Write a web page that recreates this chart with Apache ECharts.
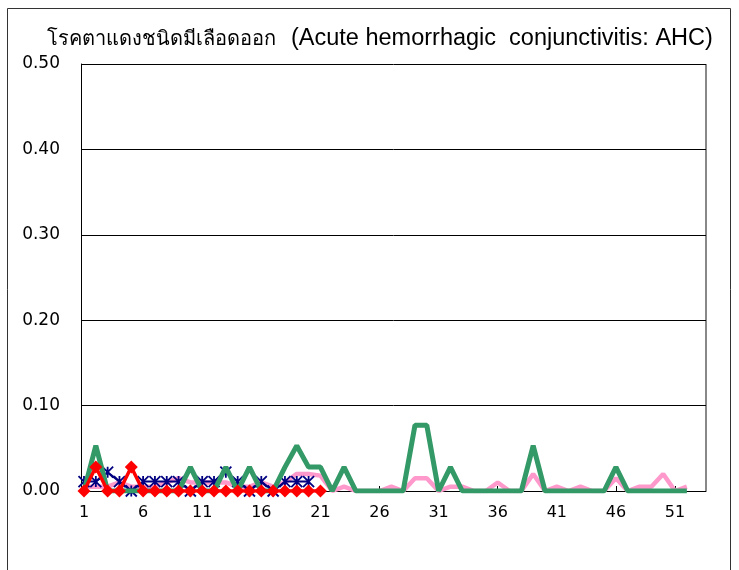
<!DOCTYPE html>
<html>
<head>
<meta charset="utf-8">
<script src="https://cdn.jsdelivr.net/npm/echarts@6/dist/echarts.min.js"></script>
<style>
html,body{margin:0;padding:0;background:#fff;}
#c{width:739px;height:570px;}
</style>
</head>
<body>
<div id="c"></div>
<script>
var titleThai = 'โรคตาแดงชนิดมีเลือดออก';
var titleEng = '(Acute hemorrhagic  conjunctivitis: AHC)';
var weeks = [1,2,3,4,5,6,7,8,9,10,11,12,13,14,15,16,17,18,19,20,21,22,23,24,25,26,
             27,28,29,30,31,32,33,34,35,36,37,38,39,40,41,42,43,44,45,46,47,48,49,50,51,52];
var xTickLabels = [1,6,11,16,21,26,31,36,41,46,51];
var yTickLabels = [0,0.1,0.2,0.3,0.4,0.5];
// pink series (weeks 1-52)
var pinkValues = [0.005,0.005,0.005,0.010,0.005,0.005,0.005,0.010,0.015,0.010,
                  0.010,0.010,0.010,0.005,0.005,0.010,0.005,0.010,0.020,0.020,
                  0.018,0.000,0.005,0.000,0.000,0.000,0.005,0.000,0.015,0.015,
                  0.000,0.005,0.005,0.000,0.000,0.010,0.000,0.000,0.020,0.000,
                  0.005,0.000,0.005,0.000,0.000,0.015,0.000,0.005,0.005,0.020,
                  0.000,0.005];
// green series (weeks 1-52)
var greenValues = [0.000,0.053,0.000,0.000,0.000,0.000,0.000,0.000,0.000,0.028,
                   0.000,0.000,0.028,0.000,0.028,0.000,0.000,0.028,0.053,0.028,
                   0.028,0.000,0.028,0.000,0.000,0.000,0.000,0.000,0.077,0.077,
                   0.000,0.028,0.000,0.000,0.000,0.000,0.000,0.000,0.053,0.000,
                   0.000,0.000,0.000,0.000,0.000,0.028,0.000,0.000,0.000,0.000,
                   0.000,0.000];
// navy asterisk series (weeks 1-20)
var navyValues = [0.011,0.011,0.022,0.011,0.000,0.011,0.011,0.011,0.011,0.000,
                  0.011,0.011,0.022,0.011,0.000,0.011,0.000,0.011,0.011,0.011];
// red diamond series (weeks 1-21)
var redValues = [0.000,0.028,0.000,0.000,0.028,0.000,0.000,0.000,0.000,0.000,
                 0.000,0.000,0.000,0.000,0.000,0.000,0.000,0.000,0.000,0.000,0.000];

function pairs(vals){ return vals.map(function(v,i){ return [weeks[i], v]; }); }

var chart = echarts.init(document.getElementById('c'), null, {renderer:'canvas'});
var FONT = 'DejaVu Sans';
chart.setOption({
  animation:false,
  backgroundColor:'#ffffff',
  title:{
    text:'{t|' + titleThai + '}   {e|' + titleEng + '}', left:42, top:22,
    textStyle:{
      fontWeight:'normal',
      rich:{
        t:{fontFamily:'Liberation Sans, Noto Sans', fontSize:20, fontWeight:'normal', color:'#000'},
        e:{fontFamily:'Liberation Sans', fontSize:23.5, fontWeight:'normal', color:'#000'}
      }
    }
  },
  grid:{left:81, right:33, top:64, bottom:79, show:false},
  xAxis:{
    type:'value', min:0.746, max:53.62,
    axisLine:{show:true, onZero:false, lineStyle:{color:'#000', width:1}},
    axisTick:{show:true, inside:true, length:5, customValues:xTickLabels, lineStyle:{color:'#000'}},
    axisLabel:{customValues:xTickLabels, margin:14, fontFamily:FONT, fontSize:16, color:'#000'},
    splitLine:{show:false}
  },
  yAxis:{
    type:'value', min:0, max:0.5, interval:0.1,
    axisLine:{show:true, lineStyle:{color:'#000', width:1}},
    axisTick:{show:false},
    axisLabel:{margin:21, fontFamily:FONT, fontSize:17, color:'#000',
      formatter:function(v){ return v.toFixed(2); }},
    splitLine:{show:true, lineStyle:{color:'#000', width:1}}
  },
  graphic:[
    {type:'rect', shape:{x:7.5, y:8.5, width:723, height:600}, style:{fill:null, stroke:'#333', lineWidth:1}, silent:true},
    {type:'line', shape:{x1:706, y1:64, x2:706, y2:491}, style:{stroke:'#888', lineWidth:2}, silent:true}
  ],
  series:[
    {type:'line', data:pairs(pinkValues), showSymbol:false, symbol:'none',
      lineStyle:{color:'#FF99CC', width:4.5}, z:2},
    {type:'line', data:pairs(navyValues), symbol:'path://M0 0 L10 10 M10 0 L0 10 M5 0 L5 10', symbolSize:11,
      itemStyle:{color:'#000080', borderColor:'#000080', borderWidth:1.8},
      lineStyle:{color:'#000080', width:2}, z:3},
    {type:'line', data:pairs(greenValues), showSymbol:false, symbol:'none',
      lineStyle:{color:'#339966', width:5}, z:4},
    {type:'line', data:pairs(redValues), symbol:'diamond', symbolSize:13,
      itemStyle:{color:'#FF0000', borderWidth:0},
      lineStyle:{color:'#FF0000', width:3.5}, z:5}
  ]
});
</script>
</body>
</html>
